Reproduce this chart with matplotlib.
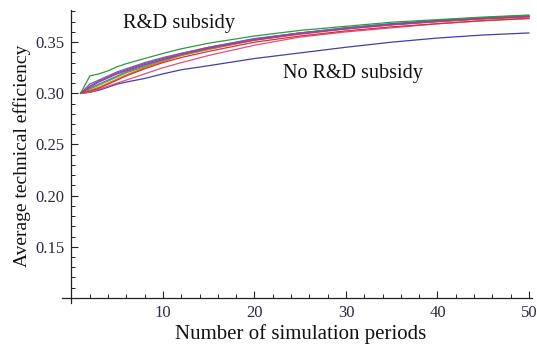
import matplotlib
matplotlib.use("Agg")
import matplotlib.pyplot as plt
from matplotlib.ticker import FixedLocator

periods = [1, 2, 3, 4, 5, 6, 8, 10, 12, 15, 20, 25, 30, 35, 40, 45, 50]

no_subsidy = [0.300, 0.301, 0.303, 0.306, 0.309, 0.311, 0.3145, 0.319, 0.323, 0.327,
              0.334, 0.3395, 0.345, 0.350, 0.354, 0.357, 0.359]

sub_green = [0.300, 0.317, 0.319, 0.322, 0.326, 0.329, 0.334, 0.339, 0.3435, 0.349,
             0.356, 0.3615, 0.3655, 0.3695, 0.372, 0.3745, 0.3765]
sub_blue = [0.300, 0.307, 0.312, 0.316, 0.320, 0.323, 0.329, 0.334, 0.339, 0.345,
            0.3535, 0.359, 0.364, 0.368, 0.371, 0.3735, 0.3755]
sub_purple = [0.300, 0.309, 0.313, 0.317, 0.321, 0.324, 0.330, 0.335, 0.339, 0.345,
              0.353, 0.359, 0.363, 0.367, 0.370, 0.373, 0.375]
sub_teal = [0.300, 0.305, 0.309, 0.313, 0.317, 0.321, 0.327, 0.333, 0.338, 0.344,
            0.353, 0.359, 0.364, 0.368, 0.3715, 0.374, 0.376]
sub_magenta = [0.300, 0.306, 0.311, 0.315, 0.319, 0.322, 0.328, 0.333, 0.338, 0.344,
               0.352, 0.358, 0.363, 0.367, 0.3705, 0.373, 0.375]
sub_orange = [0.300, 0.303, 0.306, 0.310, 0.314, 0.318, 0.325, 0.331, 0.337, 0.343,
              0.352, 0.358, 0.363, 0.367, 0.370, 0.3725, 0.3745]
sub_olive = [0.300, 0.304, 0.308, 0.312, 0.316, 0.320, 0.326, 0.332, 0.337, 0.343,
             0.352, 0.3585, 0.3635, 0.3675, 0.3705, 0.373, 0.375]
sub_red = [0.300, 0.302, 0.305, 0.309, 0.313, 0.317, 0.324, 0.330, 0.335, 0.341,
           0.350, 0.356, 0.361, 0.365, 0.368, 0.371, 0.373]
sub_pink = [0.300, 0.301, 0.304, 0.307, 0.310, 0.313, 0.319, 0.325, 0.330, 0.337,
            0.347, 0.355, 0.360, 0.364, 0.368, 0.371, 0.3735]

subsidy_series = [sub_orange, sub_olive, sub_teal, sub_blue, sub_purple, sub_magenta,
                  sub_pink, sub_red, sub_green]
subsidy_colors = ['#e07a20', '#8a9a20', '#20a0a0', '#3a6ec0', '#9050b0', '#c0308a',
                  '#e05080', '#d83030', '#2e9a3a']

x_major = [10, 20, 30, 40, 50]
y_major = [0.15, 0.20, 0.25, 0.30, 0.35]

plt.rcParams['font.family'] = ['Liberation Serif', 'DejaVu Serif']

fig = plt.figure(figsize=(5.37, 3.46), dpi=100)
ax = fig.add_axes([0.1161, 0.1243, 0.874, 0.847])

ax.plot(periods, no_subsidy, color='#4040a8', lw=0.9)
for s, c in zip(subsidy_series, subsidy_colors):
    ax.plot(periods, s, color=c, lw=0.9)

ax.set_xlim(-1, 50.3)
ax.set_ylim(0.095, 0.3815)

for side in ['top', 'right']:
    ax.spines[side].set_visible(False)
ax.spines['left'].set_position(('data', 0))
ax.spines['bottom'].set_position(('data', 0.1))
for side in ['left', 'bottom']:
    ax.spines[side].set_linewidth(0.9)
    ax.spines[side].set_color('#222222')

ax.xaxis.set_major_locator(FixedLocator(x_major))
ax.xaxis.set_minor_locator(FixedLocator([v for v in range(2, 51, 2) if v % 10 != 0]))
ax.yaxis.set_major_locator(FixedLocator(y_major))
ax.yaxis.set_minor_locator(FixedLocator([round(0.11 + 0.01 * i, 2) for i in range(28)
                                         if round((0.11 + 0.01 * i) * 100) % 5 != 0]))
ax.set_xticklabels([str(v) for v in x_major])
ax.set_yticklabels([f"{v:.2f}" for v in y_major])

ax.tick_params(which='major', direction='in', length=5, width=0.8, color='#222222',
               labelsize=12, labelcolor='#2a2a40', pad=5)
ax.tick_params(which='minor', direction='in', length=3, width=0.7, color='#222222')

ax.text(-5.4, 0.2392, 'Average technical efficiency', rotation=90, ha='center',
        va='center', fontsize=14, color='#111111')
ax.text(25, 0.0598, 'Number of simulation periods', ha='center', va='baseline',
        fontsize=15, color='#111111')

ax.text(11.75, 0.3685, 'R&D subsidy', ha='center', va='center', fontsize=14.8, color='#111111')
ax.text(30.76, 0.3196, 'No R&D subsidy', ha='center', va='center', fontsize=14.5, color='#111111')

fig.savefig('out.png', dpi=100)
